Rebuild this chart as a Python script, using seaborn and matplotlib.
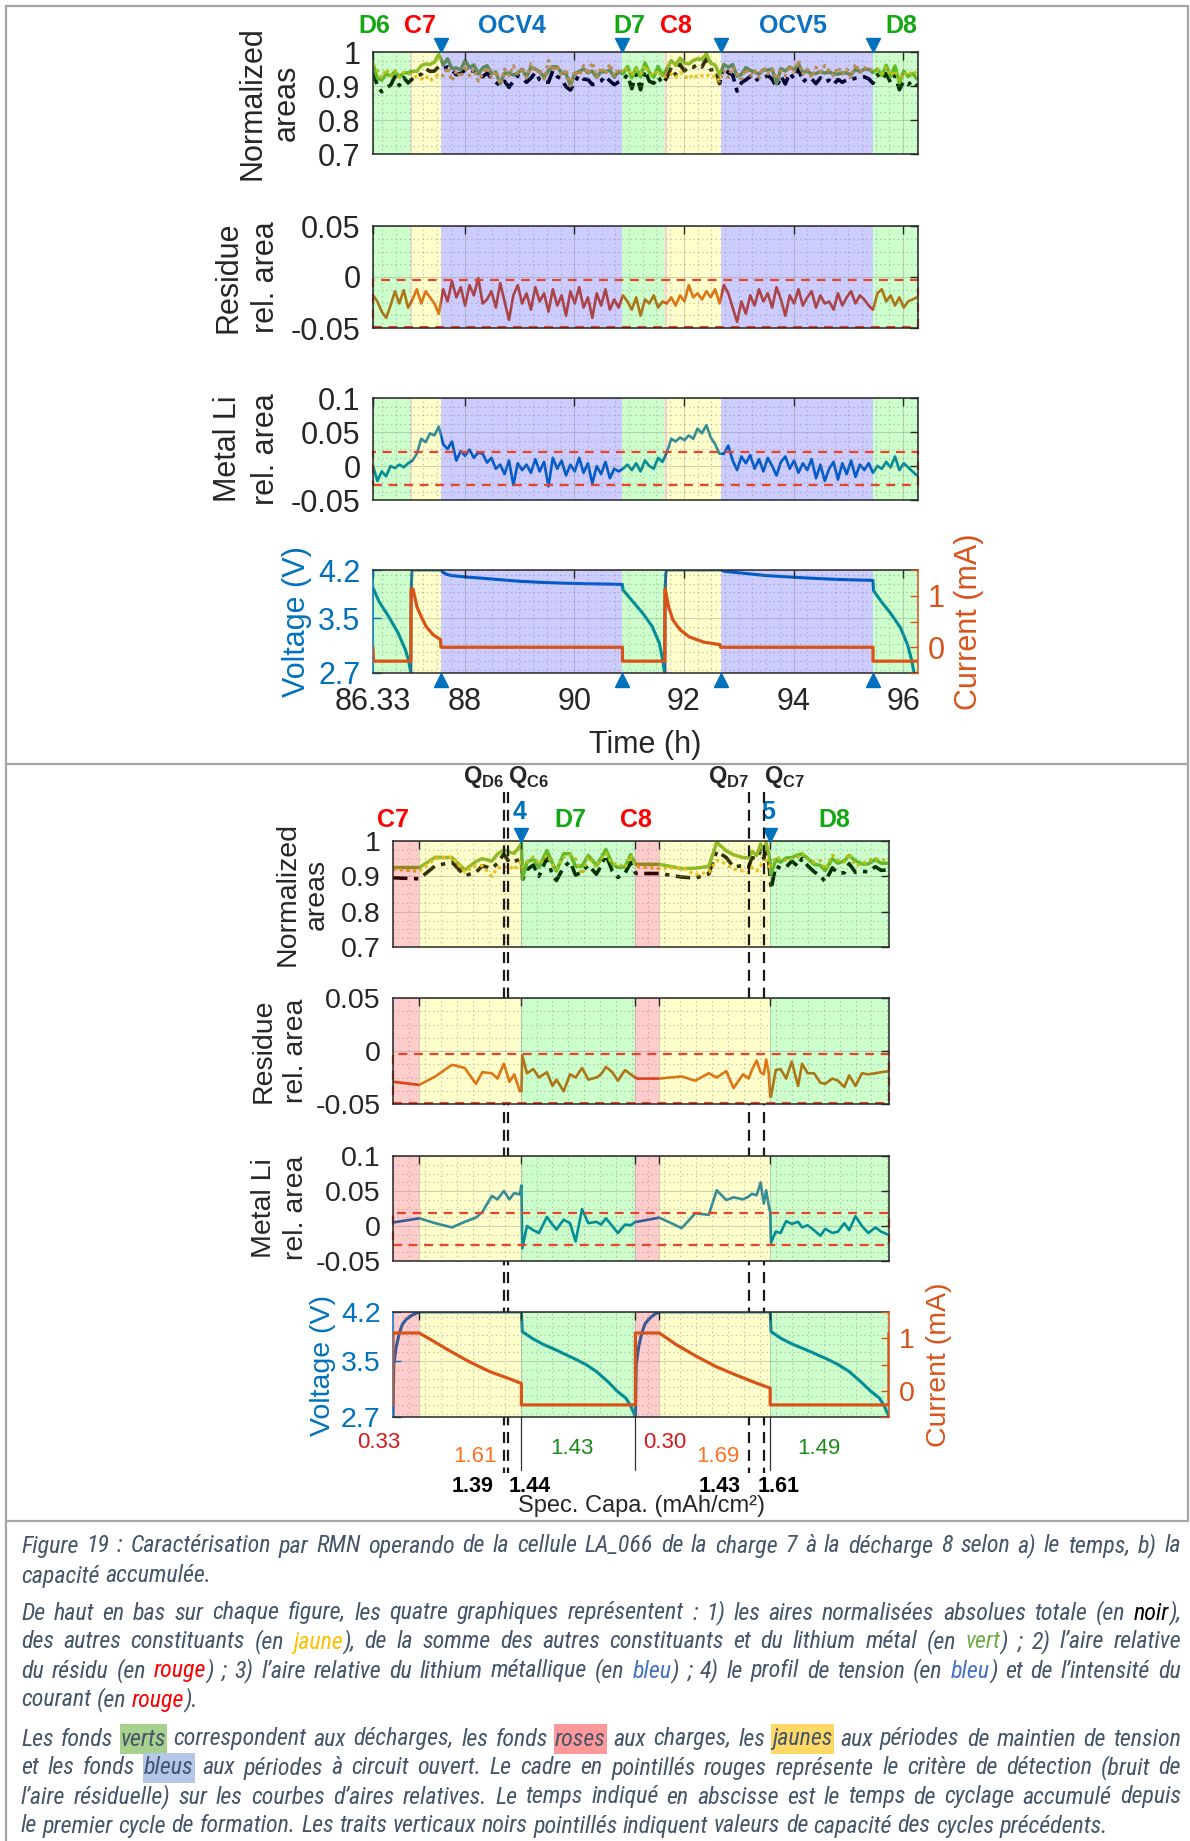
import numpy as np
import matplotlib
matplotlib.use('Agg')
import matplotlib.pyplot as plt
import matplotlib.transforms as mtransforms
from matplotlib.lines import Line2D
from matplotlib.patches import Rectangle
from matplotlib.ticker import MultipleLocator, FixedLocator
from matplotlib import font_manager
from matplotlib.font_manager import FontProperties
import seaborn as sns

# ---------------- a) versus time ----------------
T0, T_STEP = 86.33, 0.08          # NMR spectra acquisition grid (h)
others_a = [0.965, 0.945, 0.925, 0.950, 0.930, 0.945, 0.925, 0.940, 0.935,            # D6
            0.935, 0.925, 0.920, 0.930, 0.915, 0.925, 0.935,                          # C7
            0.930, 0.955, 0.915, 0.945, 0.925, 0.960, 0.930, 0.950, 0.915, 0.935,     # OCV4
            0.955, 0.925, 0.945, 0.905, 0.950, 0.930, 0.960, 0.935, 0.955, 0.925,
            0.965, 0.940, 0.950, 0.920, 0.975, 0.945, 0.960, 0.930, 0.950, 0.900,
            0.945, 0.930, 0.960, 0.935, 0.970, 0.925, 0.955, 0.935, 0.965, 0.930, 0.950,
            0.940, 0.955, 0.930, 0.950, 0.935, 0.960, 0.940, 0.930, 0.945, 0.925,     # D7
            0.930, 0.935, 0.925, 0.940, 0.930, 0.920, 0.935, 0.925, 0.930, 0.935,     # C8
            0.925, 0.930, 0.915,
            0.945, 0.925, 0.955, 0.935, 0.920, 0.950, 0.930, 0.945, 0.925, 0.955,     # OCV5
            0.935, 0.950, 0.920, 0.945, 0.930, 0.960, 0.940, 0.975, 0.935, 0.950,
            0.925, 0.955, 0.940, 0.960, 0.945, 0.930, 0.955, 0.935, 0.950, 0.925,
            0.965, 0.940, 0.955, 0.945, 0.950,
            0.950, 0.935, 0.955, 0.930, 0.945, 0.915, 0.940, 0.930, 0.945, 0.935]     # D8
metal_a = [0.000, -0.022, -0.008, -0.015, 0.000, -0.003, 0.002, -0.002, 0.004,
           0.008, 0.018, 0.040, 0.035, 0.048, 0.045, 0.058,
           0.032, 0.025, 0.036, 0.008, 0.022, 0.015, 0.024, 0.012, 0.020, 0.018,
           0.005, 0.012, -0.004, 0.002, -0.012, 0.008, -0.028, 0.004, -0.006, 0.002,
           -0.010, 0.010, -0.008, 0.006, -0.030, 0.012, -0.004, 0.008, -0.014, 0.002,
           -0.008, 0.012, -0.010, 0.004, -0.026, 0.000, -0.012, 0.006, -0.018, -0.004, -0.008,
           -0.004, 0.002, -0.006, 0.004, -0.008, 0.008, 0.000, -0.004, 0.012, 0.006,
           0.020, 0.040, 0.036, 0.042, 0.038, 0.045, 0.040, 0.055, 0.048, 0.060,
           0.042, 0.032, 0.018,
           0.018, 0.030, 0.008, -0.006, 0.014, 0.004, 0.016, -0.004, 0.010, -0.008,
           0.012, 0.000, -0.014, 0.006, 0.014, -0.004, 0.008, -0.010, 0.004, -0.006,
           0.010, -0.018, 0.002, -0.022, -0.004, 0.006, -0.020, 0.004, -0.012, 0.008,
           -0.016, 0.002, -0.006, 0.004, -0.010,
           0.000, -0.004, 0.006, -0.002, 0.014, -0.006, 0.004, -0.002, -0.008, -0.014]
residue_a = [-0.018, -0.024, -0.034, -0.040, -0.028, -0.014, -0.026, -0.013, -0.030,
             -0.022, -0.012, -0.026, -0.014, -0.020, -0.026, -0.036,
             -0.012, -0.024, -0.004, -0.020, -0.010, -0.028, -0.008, -0.018, -0.001, -0.026,
             -0.022, -0.014, -0.030, -0.006, -0.024, -0.042, -0.018, -0.008, -0.026, -0.016,
             -0.032, -0.010, -0.024, -0.016, -0.034, -0.012, -0.028, -0.018, -0.038, -0.014,
             -0.026, -0.010, -0.030, -0.020, -0.040, -0.016, -0.028, -0.012, -0.032, -0.022, -0.030,
             -0.018, -0.024, -0.032, -0.020, -0.038, -0.022, -0.026, -0.018, -0.030, -0.024,
             -0.026, -0.020, -0.028, -0.018, -0.024, -0.008, -0.020, -0.016, -0.022, -0.014,
             -0.020, -0.012, -0.026,
             -0.008, -0.016, -0.030, -0.044, -0.024, -0.036, -0.018, -0.028, -0.012, -0.024,
             -0.016, -0.030, -0.010, -0.022, -0.038, -0.018, -0.026, -0.012, -0.028, -0.020,
             -0.014, -0.030, -0.018, -0.026, -0.024, -0.032, -0.016, -0.028, -0.020, -0.014,
             -0.026, -0.018, -0.022, -0.028, -0.032,
             -0.016, -0.012, -0.024, -0.018, -0.028, -0.020, -0.030, -0.024, -0.022, -0.020]

volt_t_a = [86.33, 86.44, 86.61, 86.79, 86.92, 86.98, 87.02,
            87.025, 87.03, 87.04, 87.05, 87.57,
            87.60, 87.66, 87.75, 88.0, 88.33, 88.7, 89.02, 89.4, 89.8, 90.2, 90.6, 90.88,
            90.89, 91.07, 91.25, 91.42, 91.55, 91.60, 91.65,
            91.655, 91.66, 91.67, 91.69, 92.67,
            92.75, 93.05, 93.48, 93.90, 94.33, 94.76, 95.19, 95.45,
            95.46, 95.60, 95.77, 95.95, 96.08, 96.15, 96.20]
volt_a = [3.94, 3.74, 3.53, 3.28, 3.04, 2.88, 2.70,
          3.60, 3.95, 4.15, 4.20, 4.20,
          4.17, 4.14, 4.12, 4.10, 4.08, 4.055, 4.035, 4.02, 4.008, 4.00, 3.995, 3.99,
          3.91, 3.74, 3.57, 3.38, 3.14, 2.95, 2.70,
          3.60, 3.95, 4.15, 4.20, 4.20,
          4.18, 4.156, 4.12, 4.10, 4.08, 4.064, 4.054, 4.05,
          3.90, 3.74, 3.57, 3.36, 3.11, 2.90, 2.70]
curr_t_a = [86.33, 86.34, 87.02, 87.025, 87.06, 87.13, 87.22, 87.30, 87.43, 87.56, 87.57,
            90.88, 90.88, 91.65, 91.655, 91.66, 91.72, 91.80, 91.93, 92.10, 92.36, 92.66,
            92.67, 95.45, 95.45, 96.27]
curr_a = [0.0, -0.27, -0.27, 1.13, 1.13, 0.79, 0.57, 0.40, 0.24, 0.15, 0.0,
          0.0, -0.27, -0.27, 1.13, 1.13, 0.79, 0.53, 0.34, 0.20, 0.10, 0.05,
          0.0, 0.0, -0.27, -0.27]

bounds_a = [86.33, 87.02, 87.05, 87.57, 90.88, 91.65, 91.69, 92.67, 95.45, 96.27]
kinds_a = ['g', 'r', 'y', 'b', 'g', 'r', 'y', 'b', 'g']
arrows_a = [87.57, 90.88, 92.67, 95.45]
labels_a = [('D6', 86.36, 'g'), ('C7', 87.18, 'r'), ('OCV4', 88.86, 'b'), ('D7', 91.0, 'g'),
            ('C8', 91.86, 'r'), ('OCV5', 93.99, 'b'), ('D8', 95.97, 'g')]
xticks_a = [86.33, 88, 90, 92, 94, 96]

# ---------------- b) versus accumulated capacity ----------------
cap_b = [0.0, 0.33, 0.53, 0.74, 0.90, 1.04, 1.12, 1.24, 1.31, 1.39, 1.46, 1.52, 1.59, 1.61,     # C7
         1.62, 1.68, 1.76, 1.83, 1.93, 2.00, 2.05, 2.14, 2.22, 2.29, 2.37, 2.45, 2.55, 2.61,  # D7
         2.67, 2.75, 2.82, 2.91, 2.98, 3.04,
         3.06, 3.34, 3.62, 3.79, 3.96, 4.06, 4.18, 4.27, 4.39, 4.46, 4.50, 4.56, 4.61, 4.65,  # C8
         4.68, 4.71, 4.73,
         4.74, 4.80, 4.86, 4.93, 5.00, 5.08, 5.13, 5.20, 5.28, 5.36, 5.42, 5.51, 5.58, 5.66,  # D8
         5.72, 5.80, 5.88, 5.96, 6.05, 6.12, 6.22]
others_b = [0.920, 0.914, 0.950, 0.955, 0.912, 0.930, 0.930, 0.900, 0.925, 0.925, 0.930, 0.918, 0.940, 0.935,
            0.925, 0.940, 0.955, 0.935, 0.960, 0.935, 0.920, 0.955, 0.960, 0.950, 0.905, 0.955, 0.925, 0.950,
            0.965, 0.935, 0.935, 0.925, 0.960, 0.928,
            0.928, 0.922, 0.925, 0.905, 0.912, 0.945, 0.935, 0.920, 0.915, 0.910, 0.925, 0.915, 0.930, 0.940,
            0.945, 0.935, 0.920,
            0.930, 0.955, 0.950, 0.945, 0.950, 0.955, 0.965, 0.950, 0.940, 0.945, 0.920, 0.960, 0.945, 0.940,
            0.965, 0.930, 0.935, 0.945, 0.950, 0.945, 0.950]
metal_b = [0.005, 0.011, 0.004, -0.002, 0.006, 0.012, 0.020, 0.043, 0.038, 0.050, 0.038, 0.047, 0.045, 0.058,
           -0.032, 0.000, -0.006, -0.010, 0.013, 0.002, -0.005, 0.009, 0.004, -0.022, 0.024, 0.004, 0.006, 0.002,
           0.011, 0.000, -0.010, 0.002, 0.001, 0.006,
           0.006, 0.012, -0.003, 0.018, 0.016, 0.051, 0.037, 0.041, 0.038, 0.042, 0.046, 0.044, 0.062, 0.032,
           0.051, 0.030, 0.020,
           -0.024, -0.008, -0.010, 0.007, 0.003, 0.006, -0.002, 0.001, -0.006, -0.014, -0.004, -0.010, -0.008, 0.004,
           -0.006, 0.014, 0.000, -0.010, -0.002, -0.008, -0.013]
residue_b = [-0.029, -0.032, -0.024, -0.013, -0.016, -0.031, -0.020, -0.021, -0.026, -0.012, -0.029, -0.022, -0.038, -0.038,
             -0.004, -0.021, -0.017, -0.025, -0.020, -0.033, -0.027, -0.038, -0.022, -0.025, -0.016, -0.027, -0.025, -0.022,
             -0.015, -0.020, -0.028, -0.018, -0.022, -0.025,
             -0.026, -0.026, -0.024, -0.028, -0.021, -0.025, -0.019, -0.035, -0.022, -0.026, -0.018, -0.009, -0.020, -0.022,
             -0.008, -0.020, -0.043,
             -0.043, -0.018, -0.017, -0.026, -0.010, -0.033, -0.012, -0.021, -0.021, -0.030, -0.031, -0.026, -0.028, -0.034,
             -0.023, -0.033, -0.021, -0.022, -0.021, -0.020, -0.019]

volt_cap_b = [0.0, 0.01, 0.04, 0.08, 0.12, 0.17, 0.23, 0.29, 0.33, 1.61,
              1.62, 1.75, 1.88, 2.02, 2.15, 2.28, 2.42, 2.55, 2.70, 2.81, 2.92, 2.98, 3.04,
              3.05, 3.08, 3.12, 3.16, 3.21, 3.27, 3.34, 4.73,
              4.74, 4.87, 5.01, 5.16, 5.30, 5.44, 5.58, 5.72, 5.87, 5.99, 6.10, 6.16, 6.22]
volt_b = [2.70, 3.45, 3.70, 3.90, 4.03, 4.10, 4.15, 4.18, 4.20, 4.20,
          3.92, 3.82, 3.74, 3.67, 3.60, 3.53, 3.45, 3.35, 3.20, 3.07, 2.97, 2.86, 2.70,
          3.45, 3.70, 3.90, 4.03, 4.10, 4.16, 4.20, 4.20,
          3.92, 3.82, 3.74, 3.67, 3.60, 3.53, 3.45, 3.35, 3.20, 3.07, 2.97, 2.86, 2.70]
curr_cap_b = [0.0, 0.0, 0.33, 0.50, 0.70, 0.96, 1.22, 1.44, 1.61, 1.61, 3.04,
              3.04, 3.34, 3.55, 3.80, 4.05, 4.30, 4.55, 4.73, 4.73, 6.22, 6.22]
curr_b = [-0.27, 1.10, 1.10, 0.95, 0.77, 0.55, 0.36, 0.24, 0.14, -0.27, -0.27,
          1.10, 1.10, 0.88, 0.66, 0.46, 0.30, 0.15, 0.05, -0.27, -0.27, 1.10]

bounds_b = [0.0, 0.33, 1.61, 3.04, 3.34, 4.73, 6.22]
kinds_b = ['r', 'y', 'g', 'r', 'y', 'g']
arrows_b = [1.61, 4.73]
labels_b = [('C7', 0.0, 'r'), ('D7', 2.22, 'g'), ('C8', 3.05, 'r'), ('D8', 5.53, 'g')]
cycle_nums_b = [('4', 1.59), ('5', 4.70)]
q_lines_b = [1.39, 1.44, 4.47, 4.65]
step_ends_b = [1.61, 3.04, 4.73]
step_caps_b = [('0.33', -0.18, '#d81818'), ('1.61', 1.03, '#ff7020'), ('1.43', 2.25, '#1a8a1a'),
               ('0.30', 3.41, '#d81818'), ('1.69', 4.08, '#ff7020'), ('1.49', 5.34, '#1a8a1a')]
prev_caps_b = [('1.39', 1.00), ('1.44', 1.71), ('1.43', 4.09), ('1.61', 4.83)]

# ---------------- style ----------------
sns.set_style('white')
plt.rcParams['font.family'] = ['Liberation Sans', 'DejaVu Sans']
plt.rcParams['mathtext.fontset'] = 'custom'
plt.rcParams['mathtext.bf'] = 'Liberation Sans:bold'
plt.rcParams['mathtext.rm'] = 'Liberation Sans'
plt.rcParams['axes.unicode_minus'] = False

SHADE = {'g': (0, 1, 0), 'r': (1, 0, 0), 'y': (1, 1, 0), 'b': (0, 0, 1)}
LABEL_COL = {'g': '#12a812', 'r': '#ff0000', 'b': '#0a72c0'}
BLUE, ORANGE, DARK = '#0072bd', '#d95319', '#262626'
W, H = 1190, 1841

fig = plt.figure(figsize=(W / 100, H / 100), dpi=100)


def box(x0, y0, x1, y1):
    return [x0 / W, 1 - y1 / H, (x1 - x0) / W, (y1 - y0) / H]


def fy(y):
    return 1 - y / H


def fline(x0, y0, x1, y1, **kw):
    fig.add_artist(Line2D([x0 / W, x1 / W], [fy(y0), fy(y1)], transform=fig.transFigure, **kw))


def style(ax, fs, yminor):
    ax.yaxis.set_minor_locator(MultipleLocator(yminor))
    ax.tick_params(which='major', direction='in', top=True, right=True, length=6, width=1,
                   colors=DARK, labelsize=fs, pad=9)
    ax.tick_params(which='minor', length=0)
    for s in ax.spines.values():
        s.set_color(DARK)
        s.set_linewidth(1.1)
        s.set_zorder(5)
    ax.grid(True, which='major', color='#7f7f7f', lw=0.8, alpha=0.35)
    ax.grid(True, which='minor', color='#7f7f7f', lw=0.8, ls=(0, (1, 3)), alpha=0.55)
    ax.set_axisbelow(False)


def shade(ax, bounds, kinds):
    for a, b, k in zip(bounds[:-1], bounds[1:], kinds):
        ax.axvspan(a, b, color=SHADE[k], alpha=0.2, lw=0, zorder=1.5)


def line(ax, x, y, **kw):
    sns.lineplot(x=x, y=y, ax=ax, estimator=None, sort=False, zorder=1.2, **kw)


def panel(axs, x, others, metal, res, bounds, kinds, xmajor, xminor, fs, rects):
    others, metal, res = map(np.asarray, (others, metal, res))
    green = others + metal
    total = green + res
    xlim = (bounds[0], bounds[-1])
    yconf = [((0.7, 1.0), [0.7, 0.8, 0.9, 1.0], ['0.7', '0.8', '0.9', '1'], 0.025),
             ((-0.05, 0.05), [-0.05, 0, 0.05], ['-0.05', '0', '0.05'], 0.0125),
             ((-0.05, 0.1), [-0.05, 0, 0.05, 0.1], ['-0.05', '0', '0.05', '0.1'], 0.0125),
             ((2.7, 4.2), [2.7, 3.5, 4.2], ['2.7', '3.5', '4.2'], 0.125)]
    for ax, (ylim, yt, yl, ymin) in zip(axs, yconf):
        ax.set_xlim(*xlim)
        ax.set_ylim(*ylim)
        shade(ax, bounds, kinds)
        ax.xaxis.set_major_locator(FixedLocator(xmajor))
        ax.xaxis.set_minor_locator(MultipleLocator(xminor))
        ax.set_yticks(yt)
        ax.set_yticklabels(yl)
        style(ax, fs, ymin)
        ax.set_xticklabels([])
    ax1, ax2, ax3, ax4 = axs
    line(ax1, x, total, color='black', lw=2.6, linestyle=(0, (4, 1.8, 1.2, 1.8)))
    line(ax1, x, green, color='#77ac30', lw=2.5)
    line(ax1, x, others, color='#edb120', lw=2.3, linestyle=(0, (1, 1.1)))
    line(ax2, x, res, color=ORANGE, lw=1.9)
    line(ax3, x, metal, color=BLUE, lw=1.9)
    for ax, (lo, hi) in zip((ax2, ax3), rects):
        ax.add_patch(Rectangle((xlim[0], lo), xlim[1] - xlim[0], hi - lo, fill=False,
                               ec='#e8442a', lw=1.6, ls=(0, (4, 3)), zorder=4, clip_on=False))
    return ax1, ax4


def twin_current(ax4, x, v, xc, c, fs):
    line(ax4, x, v, color=BLUE, lw=2.2)
    ax4.tick_params(axis='y', colors=BLUE, right=False)
    ax4.spines['left'].set_color(BLUE)
    ax4.spines['right'].set_visible(False)
    axr = ax4.twinx()
    sns.lineplot(x=xc, y=c, ax=axr, estimator=None, sort=False, color=ORANGE, lw=2.3)
    axr.set_ylim(-0.5, 1.5)
    axr.set_yticks([-0.5, 0, 0.5, 1, 1.5])
    axr.set_yticklabels(['', '0', '', '1', ''])
    axr.tick_params(axis='y', direction='in', length=6, width=1, colors=ORANGE, labelsize=fs, pad=7)
    for k in ('left', 'top', 'bottom'):
        axr.spines[k].set_visible(False)
    axr.spines['right'].set_color(ORANGE)
    axr.spines['right'].set_linewidth(1.1)
    axr.set_ylabel('')
    return axr


def ylab(x, y, s, fs, color=DARK, ls=1.18):
    fig.text(x / W, fy(y), s, rotation=90, ha='center', va='center', fontsize=fs,
             color=color, linespacing=ls, multialignment='center')


# frame lines
GRAY = '#a6a6a6'
for seg in [(6, 6, 1188, 6), (6, 764, 1188, 764), (6, 1521, 1188, 1521), (6, 6, 6, 1841), (1188, 6, 1188, 1521)]:
    fline(*seg, color=GRAY, lw=1.6)

FS_A, FS_B = 22, 20.5
rows_a = [(52, 154), (226, 328), (398, 500), (570, 673)]
rows_b = [(841, 947), (998, 1104), (1156, 1261), (1312, 1417)]
axs_a = [fig.add_axes(box(373, a, 918, b)) for a, b in rows_a]
axs_b = [fig.add_axes(box(393, a, 889, b)) for a, b in rows_b]

time_a = np.round(T0 + T_STEP * np.arange(len(others_a)), 3)
a1, a4 = panel(axs_a, time_a, others_a, metal_a, residue_a, bounds_a, kinds_a, xticks_a, 0.25, FS_A,
               [(-0.049, -0.0025), (-0.028, 0.02)])
twin_current(a4, volt_t_a, volt_a, curr_t_a, curr_a, FS_A)
a4.set_xticklabels([str(t) for t in xticks_a])
a4.tick_params(axis='x', labelsize=FS_A, pad=10)

b1, b4 = panel(axs_b, cap_b, others_b, metal_b, residue_b, bounds_b, kinds_b,
               [0.33, 1.61, 3.04, 3.34, 4.73], 0.2, FS_B, [(-0.0495, -0.003), (-0.027, 0.019)])
twin_current(b4, volt_cap_b, volt_b, curr_cap_b, curr_b, FS_B)

# phase labels and arrows, panel a
ta = mtransforms.blended_transform_factory(a1.transData, fig.transFigure)
for s, x, k in labels_a:
    a1.text(x, fy(26), s, transform=ta, ha='center', va='center', fontsize=18,
            fontweight='bold', color=LABEL_COL[k], clip_on=False)
a1.plot(arrows_a, [1.065] * len(arrows_a), 'v', color=BLUE, ms=10, clip_on=False,
        transform=mtransforms.blended_transform_factory(a1.transData, a1.transAxes), zorder=6)
a4.plot(arrows_a, [-0.065] * len(arrows_a), '^', color=BLUE, ms=10, clip_on=False,
        transform=mtransforms.blended_transform_factory(a4.transData, a4.transAxes), zorder=6)

# phase labels, arrows and capacity marks, panel b
tb = mtransforms.blended_transform_factory(b1.transData, fig.transFigure)
for s, x, k in labels_b:
    b1.text(x, fy(820), s, transform=tb, ha='center', va='center', fontsize=18,
            fontweight='bold', color=LABEL_COL[k], clip_on=False)
for s, x in cycle_nums_b:
    b1.text(x, fy(812), s, transform=tb, ha='center', va='center', fontsize=18,
            fontweight='bold', color=BLUE, clip_on=False)
b1.plot(arrows_b, [1.06] * len(arrows_b), 'v', color=BLUE, ms=10, clip_on=False,
        transform=mtransforms.blended_transform_factory(b1.transData, b1.transAxes), zorder=6)
for q in q_lines_b:
    b1.add_artist(Line2D([q, q], [fy(792), fy(1473)], transform=tb, color='#1a1a1a', lw=1.6,
                         ls=(0, (5, 3)), clip_on=False, zorder=7))
for q in step_ends_b:
    b1.add_artist(Line2D([q, q], [fy(1417), fy(1470)], transform=tb, color='#333333', lw=0.9,
                         clip_on=False))
for (lo, hi), lab in zip([(1.39, 1.44), (4.47, 4.65)], [('D6', 'C6'), ('D7', 'C7')]):
    b1.text(lo, fy(777), r'$\mathbf{Q}_{\mathbf{%s}}$' % lab[0], transform=tb, ha='right',
            va='center', fontsize=17, clip_on=False)
    b1.text(hi, fy(777), r'$\mathbf{Q}_{\mathbf{%s}}$' % lab[1], transform=tb, ha='left',
            va='center', fontsize=17, clip_on=False)
for s, x, c in step_caps_b:
    yv = 1442 if s in ('0.33', '0.30') else (1449 if c == '#1a8a1a' else 1456)
    b1.text(x, fy(yv), s, transform=tb, ha='center', va='center', fontsize=16, color=c, clip_on=False)
for s, x in prev_caps_b:
    b1.text(x, fy(1486), s, transform=tb, ha='center', va='center', fontsize=15.5,
            fontweight='bold', color='black', clip_on=False)

# axis titles
fig.text(645.5 / W, fy(745), 'Time (h)', ha='center', va='center', fontsize=FS_A, color=DARK)
fig.text(641 / W, fy(1506), 'Spec. Capa. (mAh/cm²)', ha='center', va='center', fontsize=17, color=DARK)
ylab(270, 103, 'Normalized\nareas', FS_A)
ylab(247, 277, 'Residue\nrel. area', FS_A, ls=1.34)
ylab(247, 449, 'Metal Li\nrel. area', FS_A, ls=1.34)
ylab(297, 622, 'Voltage (V)', FS_A, BLUE)
ylab(969, 622, 'Current (mA)', FS_A, ORANGE)
ylab(302, 894, 'Normalized\nareas', FS_B)
ylab(280, 1051, 'Residue\nrel. area', FS_B, ls=1.34)
ylab(280, 1208, 'Metal Li\nrel. area', FS_B, ls=1.34)
ylab(323, 1365, 'Voltage (V)', FS_B, BLUE)
ylab(939, 1365, 'Current (mA)', FS_B, ORANGE)

# ---------------- caption ----------------
TXT = '#44546a'
RED, BLEU = '#ff0000', '#4472c4'
caption = [
    ([('Figure 19 : Caractérisation par RMN operando de la cellule LA_066 de la charge 7 à la décharge 8 selon a) le temps, b) la', None, None)], True, 1546),
    ([('capacité accumulée.', None, None)], False, 1576),
    ([('De haut en bas sur chaque figure, les quatre graphiques représentent : 1) les aires normalisées absolues totale (en ', None, None),
      ('noir', 'black', None), ('),', None, None)], True, 1613),
    ([('des autres constituants (en ', None, None), ('jaune', '#ffc000', None),
      ('), de la somme des autres constituants et du lithium métal (en ', None, None), ('vert', '#70ad47', None),
      (') ; 2) l’aire relative', None, None)], True, 1642),
    ([('du résidu (en ', None, None), ('rouge', RED, None), (') ; 3) l’aire relative du lithium métallique (en ', None, None),
      ('bleu', BLEU, None), (') ; 4) le profil de tension (en ', None, None), ('bleu', BLEU, None),
      (') et de l’intensité du', None, None)], True, 1671),
    ([('courant (en ', None, None), ('rouge', RED, None), (').', None, None)], False, 1700),
    ([('Les fonds ', None, None), ('verts', None, '#a9d18e'), (' correspondent aux décharges, les fonds ', None, None),
      ('roses', None, '#ff9999'), (' aux charges, les ', None, None), ('jaunes', None, '#ffd966'),
      (' aux périodes de maintien de tension', None, None)], True, 1739),
    ([('et les fonds ', None, None), ('bleus', None, '#b4c7e7'),
      (' aux périodes à circuit ouvert. Le cadre en pointillés rouges représente le critère de détection (bruit de', None, None)], True, 1768),
    ([('l’aire résiduelle) sur les courbes d’aires relatives. Le temps indiqué en abscisse est le temps de cyclage accumulé depuis', None, None)], True, 1797),
    ([('le premier cycle de formation. Les traits verticaux noirs pointillés indiquent valeurs de capacité des cycles précédents.', None, None)], False, 1826),
]

names = {f.name for f in font_manager.fontManager.ttflist}
cap_family = next((n for n in ['Liberation Sans Narrow', 'Roboto Condensed', 'Open Sans Condensed']
                   if n in names), 'Liberation Sans')
renderer = fig.canvas.get_renderer()


def words_of(segs):
    words, new = [], True
    for txt, col, bg in segs:
        for k, p in enumerate(txt.split(' ')):
            if k > 0:
                new = True
            if p == '':
                continue
            if new:
                words.append([])
                new = False
            words[-1].append((p, col, bg))
    return words


def width(s, fp):
    t = fig.text(0, 0, s, fontproperties=fp)
    w = t.get_window_extent(renderer).width
    t.remove()
    return w


def natural_width(fp):
    sp = width('a a', fp) - width('aa', fp)
    out = []
    for segs, _, _ in caption:
        ws = words_of(segs)
        out.append(sum(width(p, fp) for w in ws for p, _, _ in w) + sp * (len(ws) - 1))
    return max(out)


X0, X1 = 21, 1181
size = 16.0
fp = FontProperties(family=cap_family, style='italic', size=size)
size = min(19.0, size * 0.975 * (X1 - X0) / natural_width(fp))
fp = FontProperties(family=cap_family, style='italic', size=size)
space = width('a a', fp) - width('aa', fp)

for segs, justify, y in caption:
    words = words_of(segs)
    widths = [[width(p, fp) for p, _, _ in w] for w in words]
    total_w = sum(sum(w) for w in widths)
    gap = (X1 - X0 - total_w) / (len(words) - 1) if justify and len(words) > 1 else space
    x = X0
    for w, ws in zip(words, widths):
        for (p, col, bg), pw in zip(w, ws):
            if bg:
                fig.add_artist(Rectangle(((x - 1) / W, fy(y + 15)), (pw + 2) / W, 30 / H,
                                         transform=fig.transFigure, color=bg, lw=0, zorder=0))
            fig.text(x / W, fy(y), p, fontproperties=fp, color=col or TXT, ha='left', va='center')
            x += pw
        x += gap

fig.savefig('out.png', dpi=100)
